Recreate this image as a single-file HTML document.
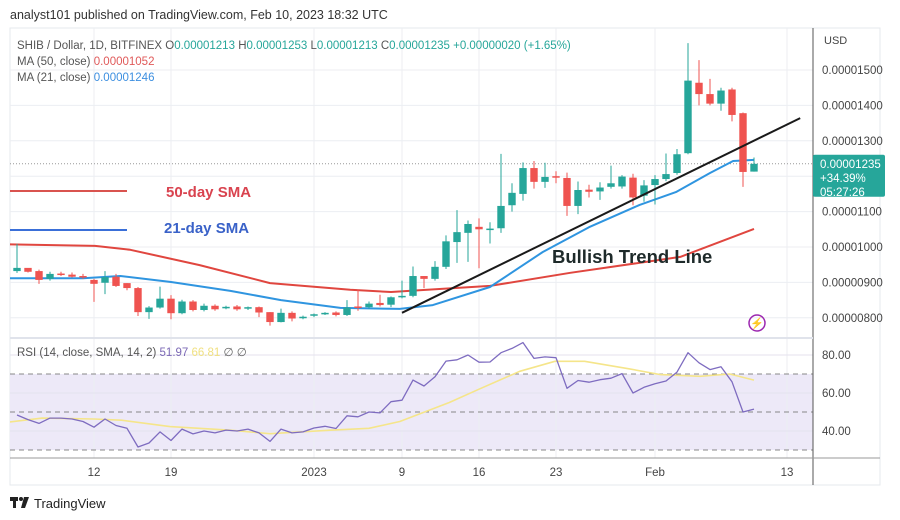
<!DOCTYPE html>
<html><head><meta charset="utf-8"><style>
html,body{margin:0;padding:0;background:#fff;width:900px;height:520px;overflow:hidden}
svg{display:block;font-family:"Liberation Sans",sans-serif}
</style></head><body>
<svg id="c" width="900" height="520" viewBox="0 0 900 520" xmlns="http://www.w3.org/2000/svg">
<defs><clipPath id="plotclip"><rect x="10" y="28" width="803" height="430"/></clipPath></defs>
<text x="10" y="19" font-size="12.5" fill="#333">analyst101 published on TradingView.com, Feb 10, 2023 18:32 UTC</text>
<rect x="10" y="28" width="870" height="457" fill="none" stroke="#e6e8ec"/>
<rect x="10" y="374" width="803" height="76" fill="#ede9f8"/>
<g id="grid"></g>
<g id="layer" clip-path="url(#plotclip)"></g>
<line x1="813" y1="28" x2="813" y2="485" stroke="#555" stroke-width="1"/>
<line x1="10" y1="458" x2="880" y2="458" stroke="#999" stroke-width="1"/>
<line x1="10" y1="338" x2="813" y2="338" stroke="#e0e3eb" stroke-width="2"/>
<text x="824" y="44" font-size="11" fill="#444">USD</text>
<text x="17" y="49" font-size="11.5" fill="#555">SHIB / Dollar, 1D, BITFINEX <tspan fill="#555">O</tspan><tspan fill="#26a69a">0.00001213</tspan> <tspan fill="#555">H</tspan><tspan fill="#26a69a">0.00001253</tspan> <tspan fill="#555">L</tspan><tspan fill="#26a69a">0.00001213</tspan> <tspan fill="#555">C</tspan><tspan fill="#26a69a">0.00001235 +0.00000020 (+1.65%)</tspan></text>
<text x="17" y="65" font-size="11.5" fill="#555">MA (50, close) <tspan fill="#e05a5a">0.00001052</tspan></text>
<text x="17" y="81" font-size="11.5" fill="#555">MA (21, close) <tspan fill="#3d8fe0">0.00001246</tspan></text>
<text x="17" y="356" font-size="11.5" fill="#555">RSI (14, close, SMA, 14, 2) <tspan fill="#7b68b5">51.97</tspan> <tspan fill="#f0e080">66.81</tspan> <tspan fill="#666">∅ ∅</tspan></text>
<line x1="10" y1="191" x2="127" y2="191" stroke="#d9534f" stroke-width="2"/>
<text x="166" y="197" font-size="15" font-weight="bold" fill="#d9434f">50-day SMA</text>
<line x1="10" y1="230" x2="127" y2="230" stroke="#3a6fd8" stroke-width="2"/>
<text x="164" y="233" font-size="15" font-weight="bold" fill="#3a62c8">21-day SMA</text>
<text x="552" y="263" font-size="18.5" font-weight="bold" fill="#1e2a2a">Bullish Trend Line</text>
<circle cx="757" cy="323" r="8" fill="none" stroke="#9c27b0" stroke-width="1.5"/>
<text x="757" y="327" font-size="11" fill="#9c27b0" text-anchor="middle">⚡</text>
<g><rect x="10" y="497" width="8" height="4" fill="#222"/><rect x="13" y="497" width="3" height="11" fill="#222"/><circle cx="21" cy="499" r="2" fill="#222"/><path d="M24 497 L29 497 L25 508 L21 508 Z" fill="#222"/></g>
<text x="34" y="508" font-size="13" fill="#222">TradingView</text>
</svg>
<script>
// candle data, price in units of 1e-8 USD, index 0 = Dec 5 2022
const opens  = [932,941,932,910,925,922,918,907,899,916,898,884,816,829,854,813,846,822,834,828,832,826,830,816,788,814,800,806,812,815,808,832,830,842,837,858,862,918,910,944,1014,1040,1057,1049,1053,1118,1150,1223,1184,1200,1195,1116,1162,1157,1170,1171,1196,1145,1175,1192,1209,1265,1464,1432,1405,1445,1378,1213];
const highs  = [1009,940,936,930,930,928,924,910,932,924,898,887,833,888,864,851,850,840,838,834,836,832,832,816,826,818,806,812,816,818,850,880,846,865,860,905,945,918,960,1033,1104,1075,1081,1070,1263,1180,1239,1243,1238,1214,1210,1185,1176,1183,1230,1203,1207,1189,1203,1264,1277,1576,1528,1475,1450,1450,1380,1253];
const lows   = [927,928,896,905,918,914,910,845,867,887,878,805,797,826,796,810,818,818,820,824,820,822,802,778,787,790,796,802,808,804,805,820,826,832,830,855,858,884,905,938,955,958,940,1010,1040,1100,1131,1165,1167,1180,1088,1093,1140,1133,1165,1165,1118,1128,1120,1186,1204,1262,1400,1400,1385,1355,1170,1213];
const closes = [941,930,907,924,922,916,915,896,915,890,884,816,829,854,813,846,822,834,824,831,824,830,815,788,814,798,803,810,814,808,829,830,840,836,858,862,918,910,944,1016,1042,1065,1050,1052,1116,1153,1223,1184,1198,1198,1116,1161,1156,1168,1180,1199,1140,1174,1192,1206,1262,1470,1432,1405,1442,1373,1212,1235];
const firstDay = -27; // days from Jan 1 2023
const ma50Days = [-28.4,-19.9,-16.7,-10.4,-4,3.3,7,16,23.3,33.3,40];
const ma50Vals = [1008,1003,992,949,898,879,873,890,927,972,1051];
const ma21Days = [-28.4,-21,-17.6,-13,-7.6,-3,2.4,7.8,10.8,16,20.8,25,29.6,32.9,36,38.1,40];
const ma21Vals = [912,912,918,901,876,850,828,825,836,887,986,1056,1119,1155,1209,1243,1246];
const trendDays = [8,44.2];
const trendVals = [814,1364];
const rsiVals = [48.4,46,44,46.8,46.8,46.3,45,42,46.3,42.9,41.4,31.6,33.7,39.5,35,41,38.5,40,39,40.5,40,41,39,34.5,41,39,39.5,41.6,42.5,41.3,48,47.5,50,49.5,55.4,56.2,66.8,63.7,68.6,76.8,77.5,80,76.2,76.3,81.2,83.5,86.5,78.2,79,78.6,62.5,66.6,65.7,67,67.8,70.2,60,63,64.9,66.3,71,81.2,75.9,72.3,73.8,65.9,50,51.5];
const rsiSmaDays = [-28.4,-24.7,-20,-17.5,-13.1,-7.6,-4,1.5,5,7.8,12.3,15,18.7,21.9,24.6,28.7,31.5,35.1,37.8,40];
const rsiSmaVals = [44.2,46.8,46.3,45.7,42.3,40.4,38.6,40.4,41.4,45,55,62,71.4,76.7,76.7,72.7,69.7,68.8,70,66.8];
const priceTicks = [1500,1400,1300,1100,1000,900,800];
const priceTickLabels = ["0.00001500","0.00001400","0.00001300","0.00001100","0.00001000","0.00000900","0.00000800"];
const rsiTicks = [80,60,40];
const rsiTickLabels = ["80.00","60.00","40.00"];
const dateTicks = [-20,-13,0,8,15,22,31,43];
const dateTickLabels = ["12","19","2023","9","16","23","Feb","13"];
const lastPrice = 1235;

const NS="http://www.w3.org/2000/svg";
const X = d => 314 + d*11.0;
const Y = p => 70 + (1500 - p)*0.354;
const RY = v => 355 + (80 - v)*1.9;
const layer=document.getElementById('layer'), grid=document.getElementById('grid'), svg=document.getElementById('c');
function mk(tag,attrs,parent){const e=document.createElementNS(NS,tag);for(const k in attrs)e.setAttribute(k,attrs[k]);(parent||layer).appendChild(e);return e;}

dateTicks.forEach((d,i)=>{
  const g=mk('line',{x1:X(d),y1:28,x2:X(d),y2:458,stroke:'#eceef2'},grid);
  
  
  const t=mk('text',{x:X(d),y:476,'font-size':11.5,fill:'#444','text-anchor':'middle'},svg);
  t.textContent=dateTickLabels[i];
  
  
});
priceTicks.forEach((p,i)=>{
  const g=mk('line',{x1:10,y1:Y(p),x2:813,y2:Y(p),stroke:'#eceef2'},grid);
  
  
  const t=mk('text',{x:822,y:Y(p)+4,'font-size':11.5,fill:'#444'},svg);
  t.textContent=priceTickLabels[i];
  
  
});
[1200].forEach(p=>{const g=mk('line',{x1:10,y1:Y(p),x2:813,y2:Y(p),stroke:'#eceef2'},grid);
  
  });
rsiTicks.forEach((v,i)=>{
  const g=mk('line',{x1:10,y1:RY(v),x2:813,y2:RY(v),stroke:'#e4e2ee'},grid);
  
  
  const t=mk('text',{x:822,y:RY(v)+4,'font-size':11.5,fill:'#444'},svg);
  t.textContent=rsiTickLabels[i];
  
  
});
[70,50,30].forEach(v=>{
  const l=mk('line',{x1:10,y1:RY(v),x2:813,y2:RY(v),stroke:'#888','stroke-dasharray':'5,4'});
  
  
});

const dl=mk('line',{x1:10,y1:Y(lastPrice),x2:813,y2:Y(lastPrice),stroke:'#999','stroke-dasharray':'1,2'});



function poly(days,vals,yf,color,w,name){
  const pts=days.map((d,i)=>X(d).toFixed(1)+','+yf(vals[i]).toFixed(1)).join(' ');
  const p=mk('polyline',{points:pts,fill:'none',stroke:color,'stroke-width':w,'stroke-linejoin':'round'});
  
  
}
poly(ma50Days,ma50Vals,Y,'#e0463f',2,'ma50-line');
poly(ma21Days,ma21Vals,Y,'#2f95e0',2,'ma21-line');

opens.forEach((o,i)=>{
  const d=firstDay+i, x=X(d), c=closes[i], up=c>=o, col=up?'#26a69a':'#ef5350';
  const g=mk('g',{});
  
  
  mk('line',{x1:x,y1:Y(highs[i]),x2:x,y2:Y(lows[i]),stroke:col,'stroke-width':1},g);
  const top=Y(Math.max(o,c)), h=Math.max(1.5,Math.abs(Y(o)-Y(c)));
  mk('rect',{x:x-3.7,y:top,width:7.4,height:h,fill:col},g);
});

poly(trendDays,trendVals,Y,'#1a1a1a',2,'bullish-trend-line');

poly(rsiSmaDays,rsiSmaVals,RY,'#f5e58a',1.6,'rsi-sma-line');
poly(rsiVals.map((v,i)=>firstDay+i),rsiVals,RY,'#7e6cc0',1.3,'rsi-line');

const tg=mk('g',{},svg);


mk('rect',{x:813,y:Y(lastPrice)-9,width:72,height:42,rx:2,fill:'#26a69a'},tg);
[['0.00001235',4],['+34.39%',18],['05:27:26',32]].forEach(([s,dy])=>{
  const t=mk('text',{x:820,y:Y(lastPrice)+dy,'font-size':11.5,fill:'#fff'},tg);t.textContent=s;
});
</script>
</body></html>
